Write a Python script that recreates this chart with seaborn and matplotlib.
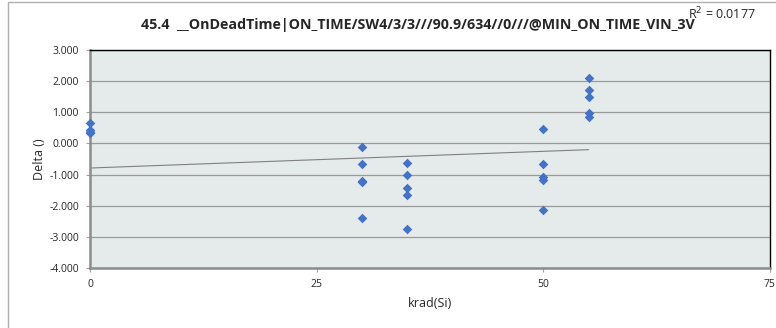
import pandas as pd
import seaborn as sns
import matplotlib.pyplot as plt
from matplotlib.patches import Rectangle

# values
krad = [0, 0, 0, 0,
        30, 30, 30, 30, 30,
        35, 35, 35, 35, 35,
        50, 50, 50, 50, 50,
        55, 55, 55, 55, 55]
delta = [0.66, 0.44, 0.38, 0.34,
         -0.13, -0.65, -1.21, -1.25, -2.40,
         -0.64, -1.02, -1.44, -1.64, -2.75,
         0.46, -0.66, -1.07, -1.19, -2.14,
         2.10, 1.73, 1.48, 0.98, 0.84]
# linear trendline as drawn in the chart
trend_x = [0, 55]
trend_y = [-0.79, -0.20]
title = "45.4  __OnDeadTime|ON_TIME/SW4/3/3///90.9/634//0///@MIN_ON_TIME_VIN_3V"
r2_label = "R$^2$ = 0.0177"
y_ticks = [3, 2, 1, 0, -1, -2, -3, -4]
x_ticks = [0, 25, 50, 75]

df = pd.DataFrame({"krad": krad, "delta": delta})
trend = pd.DataFrame({"krad": trend_x, "delta": trend_y})

sns.set_style("white")
plt.rcParams['font.family'] = ['Open Sans', 'DejaVu Sans']

fig = plt.figure(figsize=(7.76, 3.28), dpi=100)
ax = fig.add_axes([90/776, 1 - 268/328, 680/776, 218/328])

# outer chart frame
fig.patches.append(Rectangle((8/776, -0.1), 1.2, 1 - 2/328 + 0.1, transform=fig.transFigure,
                             fill=False, edgecolor='#b0b0b0', linewidth=1.0))

ax.set_facecolor('#e5eaea')
sns.lineplot(data=trend, x="krad", y="delta", ax=ax, color='#808080', linewidth=0.8)
sns.scatterplot(data=df, x="krad", y="delta", ax=ax, marker='D', s=24,
                color='#4472c4', linewidth=0, clip_on=False, zorder=3)

ax.set_xlim(0, 75)
ax.set_ylim(-4, 3)
ax.set_xticks(x_ticks)
ax.set_yticks(y_ticks)
ax.set_yticklabels([f"{v:.3f}" for v in y_ticks])
ax.yaxis.grid(True, color='#9a9a9a', linewidth=0.9)
ax.set_axisbelow(True)
ax.tick_params(axis='both', labelsize=7.5, length=3, color='#a0a0a0', direction='out',
               bottom=True, left=True, pad=5)

for side in ['top', 'right']:
    ax.spines[side].set_color('#000000')
    ax.spines[side].set_linewidth(1.0)
for side in ['left', 'bottom']:
    ax.spines[side].set_color('#8c8c8c')
    ax.spines[side].set_linewidth(1.8)

ax.set_xlabel("krad(Si)", fontsize=9, labelpad=5)
ax.set_ylabel("Delta ()", fontsize=9, labelpad=2)

fig.text(418/776, 1 - 25/328, title, ha='center', va='center', fontsize=10.3, fontweight='bold')
fig.text(722/776, 1 - 14/328, r2_label, ha='center', va='center', fontsize=9)

fig.savefig("out.png", dpi=100)
